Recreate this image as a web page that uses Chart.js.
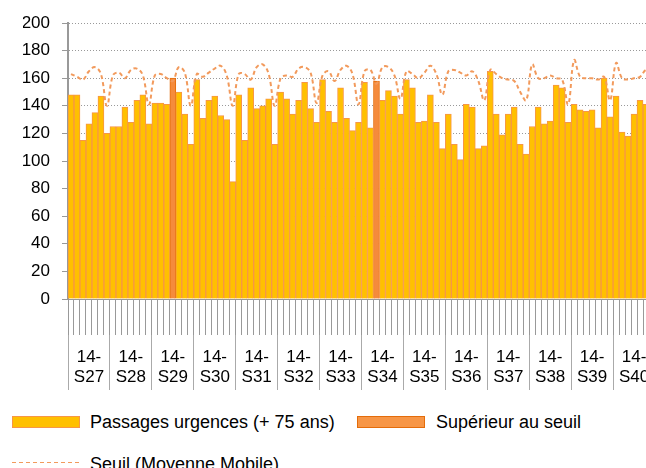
<!DOCTYPE html>
<html lang="fr">
<head>
<meta charset="utf-8">
<script src="https://cdn.jsdelivr.net/npm/chart.js@4.4.0/dist/chart.umd.min.js"></script>
<style>
  html, body { margin: 0; padding: 0; background: #fff; overflow: hidden; }
  body { width: 646px; height: 468px; position: relative; font-family: "Liberation Sans", Arial, sans-serif; color: #000; }
  #wrap { position: absolute; left: 0; top: 0; width: 662px; height: 400px; }
  .lg { position: absolute; }
  .txt { font-size: 18px; line-height: 20px; white-space: nowrap; }
  .box { width: 66px; height: 10px; border: 1px solid; }
  .dash { width: 68px; height: 1px; background: repeating-linear-gradient(to right, #F29A5C 0 4px, transparent 4px 7px); }
</style>
</head>
<body>
<div id="wrap"><canvas id="chart"></canvas></div>

<div class="lg box" style="left:12px; top:416px; background:#FFC000; border-color:#F79646;"></div>
<div class="lg txt" style="left:90px; top:412px;">Passages urgences (+ 75 ans)</div>
<div class="lg box" style="left:357px; top:416px; background:#F79646; border-color:#E46C0A;"></div>
<div class="lg txt" style="left:436px; top:412px;">Supérieur au seuil</div>
<div class="lg dash" style="left:12px; top:462px;"></div>
<div class="lg txt" style="left:90px; top:454px;">Seuil (Moyenne Mobile)</div>

<script>
const weeks = ['S27', 'S28', 'S29', 'S30', 'S31', 'S32', 'S33', 'S34', 'S35', 'S36', 'S37', 'S38', 'S39', 'S40'];
const dayNames = ['L', 'Ma', 'Me', 'J', 'V', 'S', 'D'];

// passages aux urgences, +75 ans, par jour
const passages = [
  148, 148, 115, 127, 135, 147, 120,
  125, 125, 139, 128, 144, 148, 127,
  142, 142, 141, 160, 150, 134, 112,
  159, 131, 144, 147, 133, 130, 85,
  148, 115, 153, 138, 140, 145, 112,
  150, 145, 134, 144, 157, 138, 128,
  159, 136, 128, 153, 131, 122, 128,
  157, 124, 158, 144, 151, 147, 134,
  159, 153, 128, 129, 148, 128, 109,
  134, 112, 101, 141, 139, 109, 111,
  165, 134, 119, 134, 139, 112, 105,
  125, 139, 127, 129, 155, 153, 128,
  141, 137, 136, 137, 124, 160, 132,
  147, 121, 118, 134, 144, 141, 143
];

// seuil (moyenne mobile)
const seuil = [
  163, 161, 159, 165, 168, 163, 140,
  162, 164, 160, 166, 167, 162, 141,
  162, 163, 160, 158, 168, 164, 140,
  163, 161, 164, 167, 169, 162, 140,
  163, 163, 159, 168, 170, 163, 140,
  160, 162, 161, 167, 168, 164, 142,
  162, 165, 158, 166, 169, 163, 141,
  165, 166, 156, 168, 168, 162, 145,
  165, 163, 160, 164, 169, 163, 148,
  165, 166, 164, 162, 165, 158, 144,
  166, 163, 160, 159, 158, 150, 144,
  170, 160, 160, 162, 160, 159, 141,
  173, 161, 160, 160, 159, 161, 144,
  171, 160, 159, 160, 161, 166, 165
];

const days = weeks.flatMap(w => dayNames.map(d => '14-' + w + ' ' + d));
const weekLabels = weeks.map(w => ['14-', w]);

const normal = passages.map((v, i) => v > seuil[i] ? null : v);
const superieur = passages.map((v, i) => v > seuil[i] ? v : null);

const fontFamily = '"Liberation Sans", Arial, sans-serif';
Chart.defaults.font.family = fontFamily;
Chart.defaults.color = '#000';

new Chart(document.getElementById('chart'), {
  type: 'bar',
  data: {
    labels: days,
    datasets: [
      {
        type: 'line',
        label: 'Seuil (Moyenne Mobile)',
        data: seuil,
        borderColor: '#F29A5C',
        borderWidth: 2,
        borderDash: [4, 3],
        pointRadius: 0,
        tension: 0.4,
        fill: false,
        order: 0
      },
      {
        label: 'Passages urgences (+ 75 ans)',
        data: normal,
        backgroundColor: '#FFC000',
        borderColor: '#F79646',
        borderWidth: 1,
        order: 1
      },
      {
        label: 'Supérieur au seuil',
        data: superieur,
        backgroundColor: '#F58B3C',
        borderColor: '#E46C0A',
        borderWidth: 1,
        order: 1
      }
    ]
  },
  options: {
    responsive: true,
    maintainAspectRatio: false,
    animation: false,
    layout: { padding: { left: 23, right: 7, top: 23, bottom: 10 } },
    datasets: { bar: { barPercentage: 1, categoryPercentage: 1, grouped: false } },
    plugins: { legend: { display: false }, tooltip: { enabled: false } },
    scales: {
      x: {
        offset: true,
        ticks: { display: false },
        grid: { drawOnChartArea: false, color: '#999', tickLength: 36, offset: true },
        border: { color: '#999', width: 1 },
        afterFit: s => { s.height = 36; }
      },
      x2: {
        type: 'category',
        position: 'bottom',
        weight: 1,
        labels: weekLabels,
        offset: true,
        ticks: { autoSkip: false, maxRotation: 0, color: '#000', font: { size: 17 }, padding: -43 },
        grid: { drawOnChartArea: false, color: '#aaa', tickLength: 55, offset: true },
        border: { display: false },
        afterFit: s => { s.height = 55; }
      },
      y: {
        min: 0,
        max: 200,
        ticks: { stepSize: 20, color: '#000', font: { size: 17 }, padding: 12 },
        grid: { color: '#999', tickColor: '#999', tickLength: 6 },
        border: { color: '#999', width: 2, dash: [1, 2] },
        afterFit: s => { s.width = 45; }
      }
    }
  }
});
</script>
</body>
</html>
